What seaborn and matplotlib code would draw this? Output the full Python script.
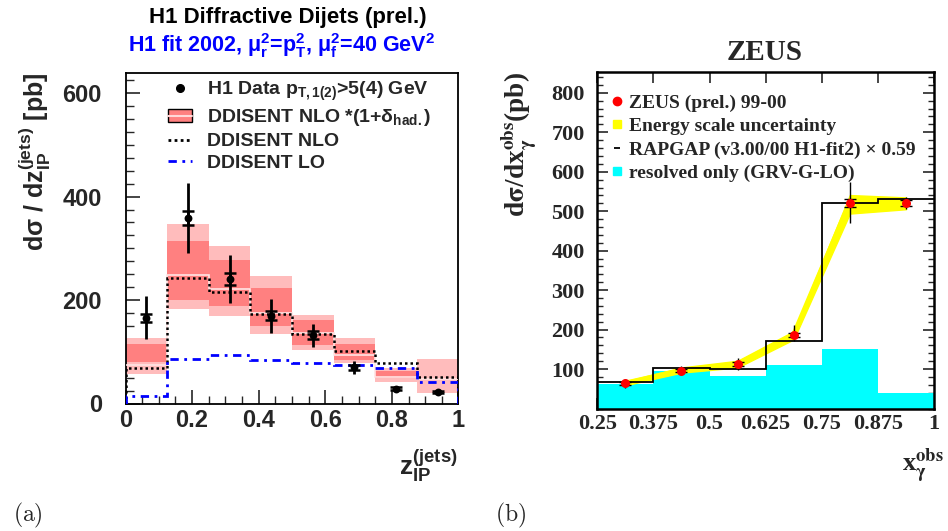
import numpy as np
import matplotlib
matplotlib.use('Agg')
import matplotlib.pyplot as plt
import seaborn as sns
from matplotlib.lines import Line2D
from matplotlib.patches import Patch
from matplotlib.ticker import MultipleLocator, FixedLocator, FuncFormatter

# ---------------- panel (a): H1 diffractive dijets ----------------
zp_edges = [0.0, 0.125, 0.25, 0.375, 0.5, 0.625, 0.75, 0.875, 1.0]
zp_centers = [0.0625, 0.1875, 0.3125, 0.4375, 0.5625, 0.6875, 0.8125, 0.9375]
h1_data = [166, 359, 241, 170, 132, 70, 29, 22]
h1_err_tot = [41, 68, 46, 33, 22, 12, 3, 3]
h1_err_stat = [8, 14, 11, 8, 8, 5, 2, 2]
nlo = [69, 242, 215, 173, 134, 101, 79, 51]
nlo_had = [75, 248, 221, 175, 137, 93, 52, 48]
nlo_had_in_lo = [81, 201, 189, 150, 114, 85, 49, 48]
nlo_had_in_hi = [116, 315, 277, 224, 161, 115, 63, 48]
nlo_had_out_lo = [58, 182, 170, 135, 104, 79, 41, 20]
nlo_had_out_hi = [126, 347, 304, 247, 171, 126, 68, 87]
lo = [14, 87, 93, 85, 79, 75, 68, 41]
left_xticks = [0, 0.2, 0.4, 0.6, 0.8, 1.0]
left_yticks = [0, 200, 400, 600]

# ---------------- panel (b): ZEUS x_gamma ----------------
xg_edges = [0.25, 0.375, 0.5, 0.625, 0.75, 0.875, 1.0]
xg_centers = [0.3125, 0.4375, 0.5625, 0.6875, 0.8125, 0.9375]
zeus = [64, 96, 112, 186, 521, 521]
zeus_err_lo = [12, 12, 15, 14, 52, 16]
zeus_err_hi = [12, 11, 15, 25, 54, 14]
zeus_stat = [4, 4, 5, 6, 11, 8]
escale_lo = [59, 91, 104, 175, 494, 505]
escale_hi = [69, 104, 121, 196, 541, 535]
rapgap = [68, 103, 99, 172, 521, 532]
resolved = [62, 96, 83, 110, 151, 40]
right_xticks = [0.25, 0.375, 0.5, 0.625, 0.75, 0.875, 1.0]
right_yticks = [100, 200, 300, 400, 500, 600, 700, 800]

sns.set_style('white')
plt.rcParams['font.family'] = ['Liberation Sans', 'DejaVu Sans']
plt.rcParams['font.weight'] = 'bold'
plt.rcParams['mathtext.fontset'] = 'custom'
plt.rcParams['mathtext.rm'] = 'Liberation Sans:bold'
plt.rcParams['mathtext.it'] = 'Liberation Sans:bold'
plt.rcParams['mathtext.bf'] = 'Liberation Sans:bold'
plt.rcParams['mathtext.default'] = 'bf'

W, H = 948, 531
fig = plt.figure(figsize=(W / 100, H / 100), dpi=100)
fig.patch.set_facecolor('white')


def fx(x):
    return x / W


def fy(y):
    return 1 - y / H


# ================= left panel =================
axL = fig.add_axes([fx(125.5), fy(403.5), (458.5 - 125.5) / W, (403.5 - 72.5) / H])
axL.set_facecolor('white')

axL.stairs(nlo_had_out_hi, zp_edges, baseline=nlo_had_out_lo, fill=True,
           color='#ffbcbc', lw=0, zorder=1)
axL.stairs(nlo_had_in_hi, zp_edges, baseline=nlo_had_in_lo, fill=True,
           color='#ff8080', lw=0, zorder=2)
axL.stairs(nlo_had, zp_edges, baseline=None, color='#ffe4e4', lw=1.2, zorder=3)
axL.stairs(nlo, zp_edges, baseline=0, color='black', ls=(0, (1, 1.2)), lw=1.8, zorder=4)
axL.stairs(lo, zp_edges, baseline=0, color='#0000ff', ls=(0, (3, 2, 1, 2)), lw=2.0, zorder=4)

axL.errorbar(zp_centers, h1_data, yerr=h1_err_tot, fmt='none', ecolor='black',
             elinewidth=2.0, capsize=0, zorder=5)
axL.errorbar(zp_centers, h1_data, yerr=h1_err_stat, fmt='none', ecolor='black',
             elinewidth=2.0, capsize=4, capthick=1.8, zorder=5)
sns.scatterplot(x=zp_centers, y=h1_data, color='black', s=32, linewidth=0,
                zorder=6, ax=axL, legend=False)

axL.set_xlim(0, 1)
axL.set_ylim(0, 640)
axL.xaxis.set_major_locator(FixedLocator(left_xticks))
axL.xaxis.set_minor_locator(MultipleLocator(0.05))
axL.yaxis.set_major_locator(FixedLocator(left_yticks))
axL.yaxis.set_minor_locator(MultipleLocator(25))
axL.xaxis.set_major_formatter(FuncFormatter(lambda v, p: '%g' % v))
axL.tick_params(which='both', direction='in', top=False, right=False,
                bottom=True, left=True, labelfontfamily='Liberation Sans')
axL.tick_params(which='major', length=10, width=1.2, labelsize=17)
axL.tick_params(axis='y', which='major', pad=17)
axL.tick_params(axis='x', which='major', pad=4)
axL.tick_params(which='minor', length=5.5, width=1.0)
for sp in axL.spines.values():
    sp.set_linewidth(1.3)
    sp.set_color('black')
axL.set_xlabel('')
axL.set_ylabel('')

h_data = Line2D([], [], marker='o', color='black', ls='none', ms=5.5)
h_band = (Patch(facecolor='#ff8080', edgecolor='black', lw=1.0),
          Line2D([], [], color='#ffd8d8', lw=1.5))
h_nlo = Line2D([], [], color='black', ls=(0, (1, 1.2)), lw=2.0)
h_lo = Line2D([], [], color='#0000ff', ls=(0, (3, 2, 1, 2)), lw=2.0)
legL = axL.legend([h_data, h_band, h_nlo, h_lo],
                  [r'H1 Data p$_{T,1(2)}$>5(4) GeV',
                   r'DDISENT NLO *(1+$\delta_{had.}$)',
                   'DDISENT NLO', 'DDISENT LO'],
                  loc='upper left', bbox_to_anchor=((168 - 125.5) / 333, (403.5 - 80) / 331),
                  frameon=False, handlelength=1.25, handletextpad=0.75,
                  labelspacing=0.22, borderpad=0, borderaxespad=0,
                  prop={'family': 'Liberation Sans', 'weight': 'bold', 'size': 14})

fig.text(fx(287.5), fy(18), 'H1 Diffractive Dijets (prel.)', ha='center', va='center',
         fontsize=16, family='Liberation Sans', weight='bold', color='black')
fig.text(fx(282), fy(46), r'H1 fit 2002, $\mu_r^2$=p$_T^2$, $\mu_f^2$=40 GeV$^2$',
         ha='center', va='center', fontsize=15.5, family='Liberation Sans',
         weight='bold', color='#0000ff', math_fontfamily='custom')
fig.text(fx(35), fy(73), r'd$\sigma$ / dz$_{IP}^{(jets)}$ [pb]', rotation=90,
         ha='center', va='top', fontsize=18, family='Liberation Sans', weight='bold',
         math_fontfamily='custom')
fig.text(fx(458), fy(466), r'z$_{IP}^{(jets)}$', ha='right', va='center', fontsize=19,
         family='Liberation Sans', weight='bold', math_fontfamily='custom')
fig.text(fx(28), fy(515), r'$\mathrm{(a)}$', ha='center', va='center', fontsize=17,
         math_fontfamily='cm')

# ================= right panel =================
axR = fig.add_axes([fx(597.3), fy(408.5), (934 - 597.3) / W, (408.5 - 72.3) / H])
axR.set_facecolor('white')

sns.histplot(x=xg_centers, weights=resolved, bins=xg_edges, element='step', fill=True,
             color='#00ffff', alpha=1, linewidth=0, ax=axR, zorder=1)
axR.fill_between(xg_centers, escale_lo, escale_hi, color='#ffff00', edgecolor='#ffff00',
                 lw=1.0, zorder=2)
axR.plot(xg_centers, zeus, color='#ffff00', lw=3.8, zorder=2)
axR.stairs(rapgap, xg_edges, baseline=None, color='black', lw=1.3, zorder=3)
axR.errorbar(xg_centers, zeus, yerr=[zeus_err_lo, zeus_err_hi], fmt='none', ecolor='black',
             elinewidth=1.0, capsize=0, zorder=4)
axR.errorbar(xg_centers, zeus, yerr=zeus_stat, fmt='none', ecolor='black',
             elinewidth=1.0, capsize=4, capthick=1.0, zorder=4)
sns.scatterplot(x=xg_centers, y=zeus, color='#ff0000', s=42, linewidth=0,
                zorder=5, ax=axR, legend=False)

axR.set_xlim(0.25, 1.0)
axR.set_ylim(0, 852)
axR.xaxis.set_major_locator(FixedLocator(right_xticks))
axR.xaxis.set_major_formatter(FuncFormatter(lambda v, p: '%g' % v))
axR.yaxis.set_major_locator(FixedLocator(right_yticks))
axR.yaxis.set_minor_locator(MultipleLocator(20))
axR.tick_params(which='both', direction='in', top=True, right=True, bottom=True, left=True,
                labelfontfamily='Liberation Serif')
axR.tick_params(which='major', length=8, width=1.2, labelsize=16)
axR.tick_params(axis='y', which='major', pad=9)
axR.tick_params(axis='x', which='major', pad=4)
axR.tick_params(which='minor', length=4, width=1.0)
for sp in axR.spines.values():
    sp.set_linewidth(1.8)
    sp.set_color('black')
axR.set_xlabel('')
axR.set_ylabel('')

hz_data = Line2D([], [], marker='o', color='#ff0000', ls='none', ms=6)
hz_band = Line2D([], [], marker='s', color='#ffff00', ls='none', ms=6)
hz_rap = Line2D([], [], marker='_', color='black', ls='none', ms=5, mew=1.3)
hz_res = Line2D([], [], marker='s', color='#00ffff', ls='none', ms=6)
legR = axR.legend([hz_data, hz_band, hz_rap, hz_res],
                  ['ZEUS (prel.) 99-00', 'Energy scale uncertainty',
                   'RAPGAP (v3.00/00 H1-fit2)' + ' \u00d7 0.59',
                   'resolved only (GRV-G-LO)'],
                  loc='upper left', bbox_to_anchor=((611 - 597.3) / 336.7, (408.5 - 94) / 336.2),
                  frameon=False, handlelength=0.6, handletextpad=0.35,
                  labelspacing=0.3, borderpad=0, borderaxespad=0,
                  prop={'family': 'Liberation Serif', 'weight': 'bold', 'size': 14})

fig.text(fx(765), fy(52), 'ZEUS', ha='center', va='center', fontsize=21,
         family='Liberation Serif', weight='bold')
fig.text(fx(519), fy(72), r'd$\sigma$/dx$_{\gamma}^{obs}$(pb)', rotation=90,
         ha='center', va='top', fontsize=19.5, family='Liberation Serif', weight='bold',
         math_fontfamily='stix')
fig.text(fx(944), fy(466), r'x$_{\gamma}^{obs}$', ha='right', va='center', fontsize=19,
         family='Liberation Serif', weight='bold', math_fontfamily='stix')
fig.text(fx(511), fy(515), r'$\mathrm{(b)}$', ha='center', va='center', fontsize=17,
         math_fontfamily='cm')

fig.savefig('out.png', dpi=100, facecolor='white')
